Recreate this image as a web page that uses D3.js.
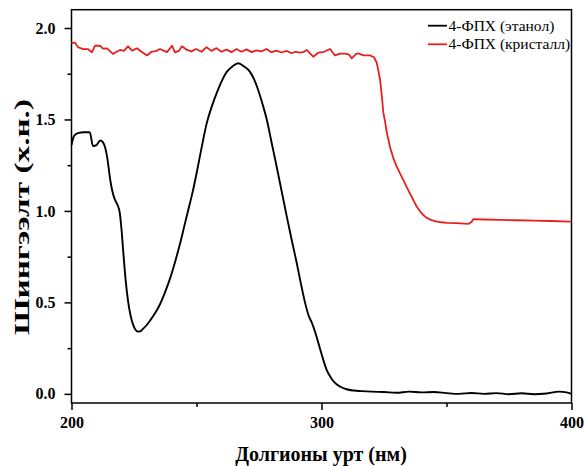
<!DOCTYPE html>
<html><head><meta charset="utf-8">
<script src="https://cdn.jsdelivr.net/npm/d3@7"></script>
<style>
html,body{margin:0;padding:0;background:#fff;}
svg{display:block;}
</style></head>
<body>
<svg id="chart" width="586" height="466"></svg>
<script>
// ---- data ----
const seriesNames = ["4-ФПХ (этанол)", "4-ФПХ (кристалл)"];
const seriesColors = ["#000000", "#e5211f"];

const ethanolWl = [200,201,202.5,205,207.3,208.6,210,211.5,212.6,214.2,215.5,216.3,217.4,218.5,219.3,220,220.8,221.6,222.6,223.6,224.6,225.6,226.6,227.6,228.6,230,231.4,233.4,235.4,237.4,239.4,241.4,243.4,245,246.6,248.4,250.1,252.1,254.1,256.1,258.1,260.1,262.1,264.4,266.7,269,271.4,273,274.7,276.4,278.1,280.1,282.1,284.1,286.1,288.1,290.1,291.8,293.4,294.8,296.1,297.4,298.7,300.4,302.1,303.7,305.4,307.4,310,313,316,320,325,330,335,340,345,350,355,360,365,370,375,380,385,390,395,398,400];
const ethanolAbs = [1.36,1.41,1.425,1.43,1.43,1.355,1.36,1.385,1.375,1.30,1.17,1.11,1.06,1.03,0.99,0.90,0.76,0.63,0.51,0.43,0.38,0.35,0.34,0.343,0.355,0.375,0.40,0.44,0.49,0.555,0.63,0.72,0.82,0.91,1.0,1.10,1.21,1.35,1.48,1.57,1.645,1.71,1.76,1.79,1.807,1.79,1.76,1.72,1.66,1.585,1.50,1.37,1.24,1.105,0.97,0.84,0.715,0.60,0.50,0.43,0.39,0.34,0.28,0.20,0.13,0.09,0.06,0.04,0.025,0.018,0.015,0.012,0.01,0.006,0.012,0.008,0.01,0.004,0.0,0.005,0.0,0.004,-0.002,0.003,-0.002,0.002,0.012,0.008,0.0];

const crystalWl = [200,201.4,202.6,204.6,206.5,208.2,209.4,211.4,212.6,214.2,216.6,218,219.4,221,222.6,224.2,226.2,228,230.2,232,234,235.4,238.2,240.2,241.4,243,244.2,246.2,248,249.8,252,254,256,258,260,262,264,266,268,270,272,274,276,278,280,282,284,286,288,289.6,291.4,293,294.1,295.5,296.7,298.7,301,303.4,305.4,307.4,309.4,311,312.1,314,315.1,316.7,319.4,321,322.1,322.7,323.4,324.2,324.7,325.4,326.1,327.4,328.7,330,331.4,332.7,334.1,335.4,336.7,338,339.4,340.7,342.1,344,346.1,348,350.1,354,358.7,360,360.7,365,371.4,378,384.7,392,399.4,400];
const crystalAbs = [1.918,1.92,1.895,1.885,1.885,1.867,1.903,1.903,1.887,1.889,1.858,1.87,1.88,1.875,1.90,1.876,1.889,1.87,1.85,1.87,1.875,1.885,1.868,1.903,1.867,1.875,1.90,1.88,1.872,1.885,1.87,1.895,1.875,1.89,1.87,1.882,1.868,1.885,1.87,1.883,1.868,1.878,1.872,1.885,1.868,1.876,1.866,1.875,1.862,1.87,1.865,1.87,1.88,1.86,1.843,1.865,1.87,1.885,1.85,1.86,1.86,1.855,1.834,1.86,1.86,1.85,1.85,1.84,1.81,1.77,1.72,1.62,1.54,1.49,1.43,1.35,1.29,1.245,1.205,1.17,1.13,1.095,1.06,1.025,0.998,0.978,0.962,0.95,0.942,0.938,0.935,0.933,0.929,0.94,0.955,0.953,0.951,0.949,0.947,0.945,0.942,0.942];

const xMajorTicks = [200, 300, 400];
const xMinorTicks = [250, 350];
const yMajorTicks = [0.0, 0.5, 1.0, 1.5, 2.0];
const yMinorTicks = [0.25, 0.75, 1.25, 1.75];
const xTitle = "Долгионы урт (нм)";
const yTitle = "Шингээлт (х.н.)";

// ---- chart ----
const svg = d3.select("#chart");
const L = 71.5, R = 571.5, T = 9.7, B = 403;
const x = d3.scaleLinear().domain([200, 400]).range([L, R]);
const y = d3.scaleLinear().domain([-0.05, 2.1]).range([B, T]);

const serif = "'Liberation Serif','Times New Roman',serif";

// axes
const fmt = d3.format(".1f");
const gx = svg.append("g").attr("transform", `translate(0,${B})`)
  .call(d3.axisBottom(x).tickValues(xMajorTicks).tickSize(7).tickPadding(7).tickFormat(d3.format("d")));
const gxm = svg.append("g").attr("transform", `translate(0,${B})`)
  .call(d3.axisBottom(x).tickValues(xMinorTicks).tickSize(4).tickFormat(""));
const gy = svg.append("g").attr("transform", `translate(${L},0)`)
  .call(d3.axisLeft(y).tickValues(yMajorTicks).tickSize(7).tickPadding(9).tickFormat(fmt));
const gym = svg.append("g").attr("transform", `translate(${L},0)`)
  .call(d3.axisLeft(y).tickValues(yMinorTicks).tickSize(4).tickFormat(""));
[gx, gxm, gy, gym].forEach(g => {
  g.select(".domain").remove();
  g.selectAll(".tick line").attr("stroke", "#000").attr("stroke-width", 1.5);
  g.selectAll("text").attr("font-family", serif).attr("font-weight", "bold")
    .attr("font-size", 16).attr("fill", "#000");
});

// frame
svg.append("rect").attr("x", L).attr("y", T).attr("width", R - L).attr("height", B - T)
  .attr("fill", "none").attr("stroke", "#000").attr("stroke-width", 1.5);

// lines
const ethanol = ethanolWl.map((w, i) => [w, ethanolAbs[i]]);
const crystal = crystalWl.map((w, i) => [w, crystalAbs[i]]);
const line = d3.line().x(d => x(d[0])).y(d => y(d[1]));
svg.append("path").datum(crystal).attr("d", line).attr("fill", "none")
  .attr("stroke", seriesColors[1]).attr("stroke-width", 1.8).attr("stroke-linejoin", "round");
svg.append("path").datum(ethanol).attr("d", line.curve(d3.curveMonotoneX)).attr("fill", "none")
  .attr("stroke", seriesColors[0]).attr("stroke-width", 1.9).attr("stroke-linejoin", "round");

// legend
const legend = svg.append("g");
seriesNames.forEach((name, i) => {
  const ly = 25.7 + i * 18.6;
  legend.append("line").attr("x1", 428).attr("x2", 447).attr("y1", ly).attr("y2", ly)
    .attr("stroke", seriesColors[i]).attr("stroke-width", 1.8);
  legend.append("text").attr("x", 448.5).attr("y", ly + 5).text(name)
    .attr("font-family", serif).attr("font-size", 15.5).attr("fill", "#000");
});

// axis titles
svg.append("text").attr("x", 321).attr("y", 461).attr("text-anchor", "middle")
  .attr("font-family", serif).attr("font-weight", "bold").attr("font-size", 20).text(xTitle);
svg.append("text").attr("transform", "translate(29,217) rotate(-90)").attr("text-anchor", "middle")
  .attr("font-family", serif).attr("font-weight", "bold").attr("font-size", 20)
  .attr("textLength", 236).attr("lengthAdjust", "spacingAndGlyphs").text(yTitle);
</script>
</body></html>
